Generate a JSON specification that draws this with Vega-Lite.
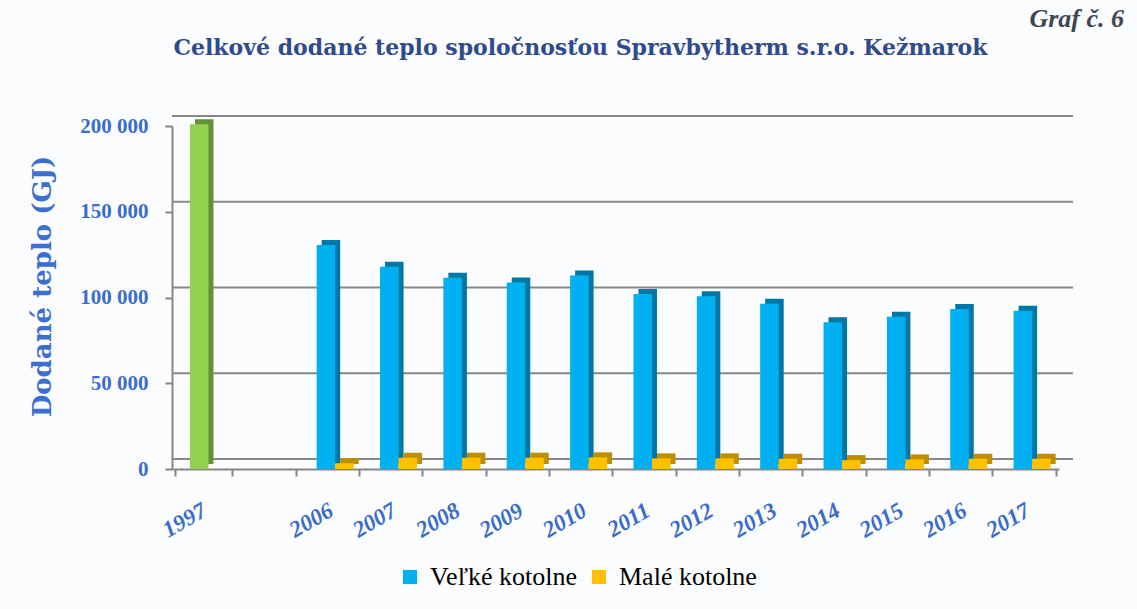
{
  "$schema": "https://vega.github.io/schema/vega-lite/v6.json",
  "width": 887,
  "height": 343,
  "autosize": {"type": "none"},
  "padding": {"left": 172, "top": 126, "right": 78, "bottom": 140},
  "background": "#fbfcfd",
  "config": {"view": {"stroke": null}},
  "title": {
    "text": "Graf č. 6",
    "anchor": "end",
    "frame": "bounds",
    "font": "Liberation Serif",
    "fontSize": 26,
    "fontWeight": "bold",
    "fontStyle": "italic",
    "color": "#3f4652",
    "baseline": "alphabetic",
    "offset": 12,
    "dy": 29,
    "dx": 50
  },
  "data": {
    "values": [
      {"rok": "1997", "typ": "Veľké kotolne", "hodnota": 201000},
      {"rok": "1997", "typ": "Malé kotolne", "hodnota": 0},
      {"rok": "2006", "typ": "Veľké kotolne", "hodnota": 130600},
      {"rok": "2006", "typ": "Malé kotolne", "hodnota": 3300},
      {"rok": "2007", "typ": "Veľké kotolne", "hodnota": 117900},
      {"rok": "2007", "typ": "Malé kotolne", "hodnota": 6600},
      {"rok": "2008", "typ": "Veľké kotolne", "hodnota": 111500},
      {"rok": "2008", "typ": "Malé kotolne", "hodnota": 6600},
      {"rok": "2009", "typ": "Veľké kotolne", "hodnota": 108800},
      {"rok": "2009", "typ": "Malé kotolne", "hodnota": 6600},
      {"rok": "2010", "typ": "Veľké kotolne", "hodnota": 112900},
      {"rok": "2010", "typ": "Malé kotolne", "hodnota": 6800},
      {"rok": "2011", "typ": "Veľké kotolne", "hodnota": 102000},
      {"rok": "2011", "typ": "Malé kotolne", "hodnota": 6200},
      {"rok": "2012", "typ": "Veľké kotolne", "hodnota": 100700},
      {"rok": "2012", "typ": "Malé kotolne", "hodnota": 6200},
      {"rok": "2013", "typ": "Veľké kotolne", "hodnota": 96400},
      {"rok": "2013", "typ": "Malé kotolne", "hodnota": 6000},
      {"rok": "2014", "typ": "Veľké kotolne", "hodnota": 85500},
      {"rok": "2014", "typ": "Malé kotolne", "hodnota": 5200},
      {"rok": "2015", "typ": "Veľké kotolne", "hodnota": 88800},
      {"rok": "2015", "typ": "Malé kotolne", "hodnota": 5600},
      {"rok": "2016", "typ": "Veľké kotolne", "hodnota": 93300},
      {"rok": "2016", "typ": "Malé kotolne", "hodnota": 6000},
      {"rok": "2017", "typ": "Veľké kotolne", "hodnota": 92300},
      {"rok": "2017", "typ": "Malé kotolne", "hodnota": 6000}
    ]
  },
  "layer": [
    {
      "data": {"values": [{"v": 0}, {"v": 50000}, {"v": 100000}, {"v": 150000}, {"v": 200000}]},
      "mark": {"type": "rule", "color": "#878787", "strokeWidth": 2, "xOffset": 14, "x2Offset": 26, "yOffset": -10, "y2Offset": -10},
      "encoding": {
        "y": {
          "field": "v", "type": "quantitative", "scale": {"domain": [0, 200000], "nice": false},
          "axis": {
            "title": "Dodané teplo (GJ)", "values": [0, 50000, 100000, 150000, 200000], "grid": false,
            "labelExpr": "replace(format(datum.value, ','), ',', ' ')",
            "domainColor": "#878787", "domainWidth": 2, "tickColor": "#878787", "tickWidth": 2, "tickSize": 7,
            "labelFont": "Liberation Serif", "labelFontSize": 21, "labelFontWeight": "bold", "labelColor": "#3a6cc9", "labelPadding": 17,
            "titleFont": "DejaVu Serif", "titleFontSize": 26, "titleFontWeight": "bold", "titleColor": "#3c6fcf",
            "titlePadding": 24, "titleY": 160
          }
        }
      }
    },
    {
      "mark": {"type": "bar", "yOffset": -5, "y2Offset": 0},
      "encoding": {
        "x": {
          "field": "rok", "type": "nominal",
          "scale": {"domain": ["1997", " ", "2006", "2007", "2008", "2009", "2010", "2011", "2012", "2013", "2014", "2015", "2016", "2017"], "paddingInner": 0.1, "paddingOuter": 0.05},
          "axis": {
            "orient": "top", "labels": false, "ticks": false, "domain": false, "grid": false,
            "title": "Celkové dodané teplo spoločnosťou Spravbytherm s.r.o. Kežmarok",
            "titleFont": "DejaVu Serif", "titleFontSize": 22, "titleFontWeight": "bold", "titleColor": "#2f4b8c",
            "titleX": 408, "titleY": -79, "titleBaseline": "middle", "titleAlign": "center"
          }
        },
        "xOffset": {"field": "typ", "type": "nominal", "scale": {"domain": ["Veľké kotolne", "Malé kotolne"], "paddingInner": 0, "paddingOuter": 0.54, "align": 0.99}},
        "y": {"field": "hodnota", "type": "quantitative"},
        "color": {
          "condition": [
            {"test": "datum.rok === '1997' && datum.typ === 'Malé kotolne'", "value": "#c4c6cb"},
            {"test": "datum.rok === '1997'", "value": "#62913a"}
          ],
          "field": "typ", "type": "nominal",
          "scale": {"domain": ["Veľké kotolne", "Malé kotolne"], "range": ["#0078a6", "#bf8f00"]},
          "legend": null
        }
      }
    },
    {
      "mark": {"type": "bar"},
      "encoding": {
        "x": {
          "field": "rok", "type": "nominal",
          "axis": {
            "orient": "bottom", "title": null, "grid": false,
            "domainColor": "#878787", "domainWidth": 2,
            "tickBand": "extent", "tickColor": "#878787", "tickWidth": 2, "tickSize": 7,
            "labelAngle": -30, "labelAlign": "right", "labelBaseline": "top", "labelPadding": 23, "labelOffset": -5,
            "labelFont": "Liberation Serif", "labelFontSize": 23, "labelFontWeight": "bold", "labelFontStyle": "italic",
            "labelColor": "#3a6cc9", "labelOverlap": false
          }
        },
        "xOffset": {"field": "typ", "type": "nominal", "scale": {"domain": ["Veľké kotolne", "Malé kotolne"], "paddingInner": 0, "paddingOuter": 0.54, "align": 0.74}},
        "y": {"field": "hodnota", "type": "quantitative"},
        "color": {
          "condition": {"test": "datum.rok === '1997'", "value": "#92d050"},
          "field": "typ", "type": "nominal",
          "scale": {"domain": ["Veľké kotolne", "Malé kotolne"], "range": ["#00b0f0", "#ffc000"]},
          "legend": {
            "orient": "none", "legendX": 225, "legendY": 438, "direction": "horizontal", "title": null,
            "symbolType": "square", "symbolSize": 200, "symbolStrokeWidth": 0,
            "labelFont": "Liberation Serif", "labelFontSize": 26, "labelColor": "#000000",
            "labelOffset": 7, "columnPadding": 8
          }
        }
      }
    }
  ],
  "resolve": {"scale": {"xOffset": "independent", "color": "independent"}, "axis": {"x": "independent"}}
}
